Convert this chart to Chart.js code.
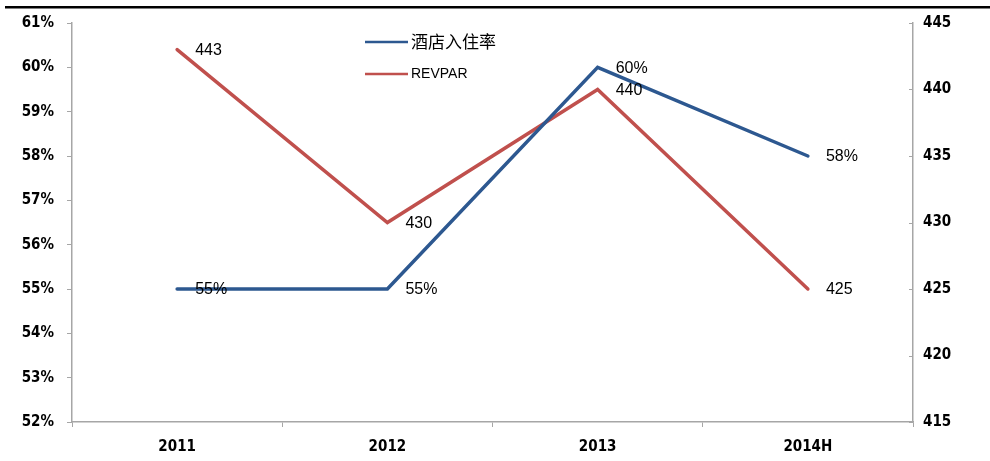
<!DOCTYPE html>
<html>
<head>
<meta charset="utf-8">
<script src="https://cdn.jsdelivr.net/npm/chart.js@4.4.1/dist/chart.umd.min.js"></script>
<style>
  html, body { margin: 0; padding: 0; background: #fff; }
  #wrap { width: 990px; height: 461px; position: relative; }
</style>
</head>
<body>
<div id="wrap"><canvas id="c" width="990" height="461"></canvas></div>
<script>
// Categories and series
const years = ['2011', '2012', '2013', '2014H'];
const occupancy = [55, 55, 60, 58];      // 酒店入住率, %
const revpar = [443, 430, 440, 425];     // REVPAR
const occTicks = [52, 53, 54, 55, 56, 57, 58, 59, 60, 61];
const revTicks = [415, 420, 425, 430, 435, 440, 445];

const BLUE = '#2D5890';
const RED = '#C0504D';
const AXIS = '#A6A6A6';
const FAMILY = '"Liberation Sans Narrow", "DejaVu Sans Condensed", Arial, sans-serif';
const TICK_FONT = { family: FAMILY, size: 15, weight: 'bold' };

// Header rule across the top
const headerRule = {
  id: 'headerRule',
  beforeDraw(chart) {
    const ctx = chart.ctx;
    ctx.save();
    ctx.fillStyle = '#000';
    ctx.fillRect(5, 6, 985, 2.5);
    ctx.restore();
  }
};

// Inside tick marks on the right axis
const rightTicks = {
  id: 'rightTicks',
  afterDraw(chart) {
    const s = chart.scales.y1;
    const ctx = chart.ctx;
    ctx.save();
    ctx.strokeStyle = AXIS;
    ctx.lineWidth = 1;
    s.ticks.forEach(t => {
      const y = Math.round(s.getPixelForValue(t.value)) + 0.5;
      ctx.beginPath();
      ctx.moveTo(s.left, y);
      ctx.lineTo(s.left - 4, y);
      ctx.stroke();
    });
    ctx.restore();
  }
};

// Value labels to the right of each point
const valueLabels = {
  id: 'valueLabels',
  afterDatasetsDraw(chart) {
    const ctx = chart.ctx;
    ctx.save();
    ctx.fillStyle = '#000';
    ctx.font = '16px "Liberation Sans", Arial, sans-serif';
    ctx.textAlign = 'left';
    ctx.textBaseline = 'middle';
    chart.data.datasets.forEach((ds, i) => {
      const meta = chart.getDatasetMeta(i);
      meta.data.forEach((pt, j) => {
        const v = ds.data[j];
        const txt = ds.yAxisID === 'y' ? v + '%' : String(v);
        ctx.fillText(txt, pt.x + 18, pt.y + 1);
      });
    });
    ctx.restore();
  }
};

// Legend block inside the plot
const legendBlock = {
  id: 'legendBlock',
  afterDraw(chart) {
    const ctx = chart.ctx;
    const items = [
      { color: BLUE, text: '酒店入住率', y: 42, font: '17px "Noto Sans CJK SC", sans-serif' },
      { color: RED, text: 'REVPAR', y: 74, font: '14px "Liberation Sans", Arial, sans-serif' }
    ];
    ctx.save();
    items.forEach(it => {
      ctx.strokeStyle = it.color;
      ctx.lineWidth = 2.5;
      ctx.beginPath();
      ctx.moveTo(365, it.y);
      ctx.lineTo(408, it.y);
      ctx.stroke();
      ctx.fillStyle = '#000';
      ctx.font = it.font;
      ctx.textAlign = 'left';
      ctx.textBaseline = 'middle';
      ctx.fillText(it.text, 411, it.y);
    });
    ctx.restore();
  }
};

new Chart(document.getElementById('c'), {
  type: 'line',
  data: {
    labels: years,
    datasets: [
      {
        label: '酒店入住率',
        data: occupancy,
        yAxisID: 'y',
        borderColor: BLUE,
        borderWidth: 3.5,
        pointRadius: 0,
        tension: 0,
        borderCapStyle: 'round'
      },
      {
        label: 'REVPAR',
        data: revpar,
        yAxisID: 'y1',
        borderColor: RED,
        borderWidth: 3.5,
        pointRadius: 0,
        tension: 0,
        borderCapStyle: 'round'
      }
    ]
  },
  options: {
    responsive: false,
    animation: false,
    devicePixelRatio: 1,
    layout: { padding: { top: 23, left: 0, right: 0, bottom: 0 } },
    plugins: {
      legend: { display: false },
      tooltip: { enabled: false }
    },
    scales: {
      x: {
        offset: true,
        grid: { offset: true, drawOnChartArea: false, drawTicks: true, tickLength: 5, color: AXIS },
        border: { color: AXIS, width: 1.5 },
        ticks: { color: '#000', font: TICK_FONT, padding: 11, maxRotation: 0 },
        afterFit(s) { s.height = 39; }
      },
      y: {
        position: 'left',
        min: 52,
        max: 61,
        afterBuildTicks(s) { s.ticks = occTicks.map(v => ({ value: v })); },
        grid: { drawOnChartArea: false, drawTicks: true, tickLength: 5, color: AXIS },
        border: { color: AXIS, width: 1.5 },
        ticks: { color: '#000', font: TICK_FONT, padding: 13, callback: v => v + '%' },
        afterFit(s) { s.width = 72; }
      },
      y1: {
        position: 'right',
        min: 415,
        max: 445,
        afterBuildTicks(s) { s.ticks = revTicks.map(v => ({ value: v })); },
        grid: { drawOnChartArea: false, drawTicks: false },
        border: { color: AXIS, width: 1.5 },
        ticks: { color: '#000', font: TICK_FONT, padding: 10 },
        afterFit(s) { s.width = 77; }
      }
    }
  },
  plugins: [headerRule, rightTicks, valueLabels, legendBlock]
});
</script>
</body>
</html>
